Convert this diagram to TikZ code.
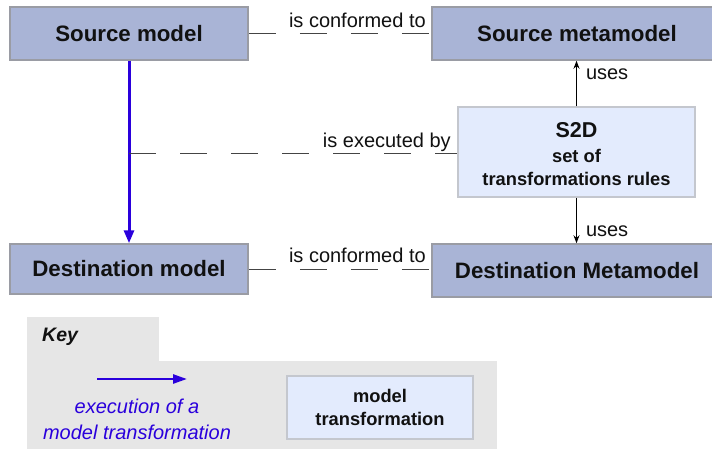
\documentclass[tikz,border=0pt]{standalone}
\usepackage{fontspec}
\setmainfont{Liberation Sans}
\usetikzlibrary{arrows.meta}
\definecolor{boxfill}{HTML}{A9B4D6}
\definecolor{boxline}{HTML}{9A9CA4}
\definecolor{rulefill}{HTML}{E3EBFD}
\definecolor{ruleline}{HTML}{C4C7CE}
\definecolor{keygrey}{HTML}{E6E6E6}
\definecolor{execblue}{HTML}{2A00DC}
\definecolor{linegrey}{HTML}{444444}
\definecolor{inkblack}{HTML}{111111}
\begin{document}
\begin{tikzpicture}[x=1pt,y=-1pt,
  modelbox/.style={draw=boxline, line width=1.5pt, fill=boxfill, font=\fontsize{22.3}{26}\selectfont\bfseries, text=inkblack, inner sep=0pt},
  rulebox/.style={draw=ruleline, line width=1.5pt, fill=rulefill, font=\fontsize{18.3}{23}\selectfont\bfseries, text=inkblack, align=center, inner sep=0pt},
  conform/.style={draw=linegrey, line width=1pt, dash pattern=on 27pt off 24pt},
  lbl/.style={font=\fontsize{20}{24}\selectfont, text=inkblack, inner sep=0pt},
  usesarrow/.style={draw=black, line width=1pt, -{Stealth[length=8pt,width=6pt]}},
  execarrow/.style={draw=execblue, line width=3pt, -{Triangle[length=13pt,width=10pt]}},
]
\useasboundingbox (0,0) rectangle (712,448);
\fill[white] (0,0) rectangle (712,448);

% main boxes
\node[modelbox, minimum width=238pt, minimum height=53pt] (sm) at (129,33.5) {Source model};
\node[modelbox, minimum width=290pt, minimum height=53pt] (smm) at (577,33.5) {Source metamodel};
\node[modelbox, minimum width=238pt, minimum height=50pt] (dm) at (129,269) {Destination model};
\node[modelbox, minimum width=290pt, minimum height=53pt] (dmm) at (577,270.5) {Destination Metamodel};
\node[rulebox, minimum width=237pt, minimum height=90pt] (s2d) at (576.5,152) {};
\node[rulebox, draw=none, fill=none, anchor=center] (s2dtext) at ([yshift=-2pt]s2d.center)
  {{\fontsize{21.5}{25}\selectfont S2D}\\[2pt] set of\\ transformations rules};

% connectors
\draw[execarrow] (sm.south) -- (dm.north);
\coordinate (ex) at (129,153);
\draw[conform] (sm.east) -- (smm.west)
  node[lbl, pos=1, anchor=base east, xshift=-5pt, yshift=6pt] {is conformed to};
\draw[conform] (ex) -- (ex -| s2d.west)
  node[lbl, pos=1, anchor=base east, xshift=-6pt, yshift=6pt] {is executed by};
\draw[conform] (dm.east) -- (dm.east -| dmm.west)
  node[lbl, pos=1, anchor=base east, xshift=-5pt, yshift=7pt] {is conformed to};
\draw[usesarrow] (s2d.north) -- (s2d.north |- smm.south)
  node[lbl, pos=0.7, anchor=west, xshift=9pt] {uses};
\draw[usesarrow] (s2d.south) -- (s2d.south |- dmm.north)
  node[lbl, pos=0.74, anchor=west, xshift=9pt] {uses};

% key
\fill[keygrey] (27,317) rectangle (159,361);
\fill[keygrey] (27,361) rectangle (497,460);
\node[font=\fontsize{19.5}{23}\selectfont\bfseries\itshape, text=inkblack, anchor=west, inner sep=0pt] (key) at (42,337) {Key};
\coordinate (ka) at (97,379);
\coordinate (kb) at (187,379);
\draw[execblue, line width=2.5pt, -{Triangle[length=14pt,width=9pt]}] (ka) -- (kb);
\node[font=\fontsize{20}{26}\selectfont\itshape, text=execblue, align=center, inner sep=0pt] (keytxt) at (137,419) {execution of a\\model transformation};
\node[rulebox, minimum width=186pt, minimum height=63pt] (keybox) at (380,407.5) {model\\transformation};
\end{tikzpicture}
\end{document}
